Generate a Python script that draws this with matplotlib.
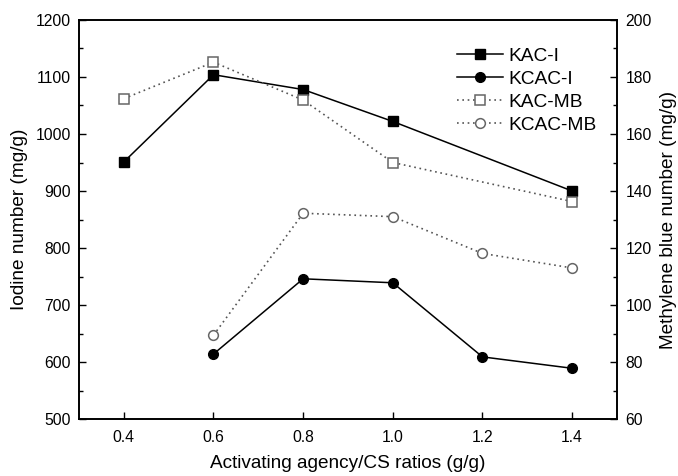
import matplotlib
matplotlib.use("Agg")
import matplotlib.pyplot as plt

plt.rcParams['font.family'] = ['Liberation Sans', 'DejaVu Sans']

# data
x_kac_i = [0.4, 0.6, 0.8, 1.0, 1.4]
kac_i = [951, 1104, 1078, 1022, 900]
x_kcac_i = [0.6, 0.8, 1.0, 1.2, 1.4]
kcac_i = [614, 746, 739, 609, 589]
x_kac_mb = [0.4, 0.6, 0.8, 1.0, 1.4]
kac_mb = [172.4, 185.2, 171.9, 150.0, 136.3]
x_kcac_mb = [0.6, 0.8, 1.0, 1.2, 1.4]
kcac_mb = [89.4, 132.2, 131.0, 118.1, 113.0]
x_ticks = [0.4, 0.6, 0.8, 1.0, 1.2, 1.4]

fig = plt.figure(figsize=(6.78, 4.76), dpi=100)
ax = fig.add_axes([0.1165, 0.1197, 0.7935, 0.8383])
ax2 = ax.twinx()

l1, = ax.plot(x_kac_i, kac_i, color='black', lw=1.1, marker='s', ms=6.5,
              label='KAC-I')
l2, = ax.plot(x_kcac_i, kcac_i, color='black', lw=1.1, marker='o', ms=7,
              label='KCAC-I')
l3, = ax2.plot(x_kac_mb, kac_mb, color='#555555', lw=1.2, ls=(0, (1, 2.2)),
               marker='s', ms=6.5, mfc='white', mec='#666666', mew=1.1,
               label='KAC-MB')
l4, = ax2.plot(x_kcac_mb, kcac_mb, color='#555555', lw=1.2, ls=(0, (1, 2.2)),
               marker='o', ms=7, mfc='white', mec='#666666', mew=1.1,
               label='KCAC-MB')

ax.set_xlim(0.3, 1.5)
ax.set_ylim(500, 1200)
ax2.set_ylim(60, 200)
ax.set_xticks(x_ticks)
ax.set_xticklabels(['%.1f' % v for v in x_ticks])
ax.set_yticks(range(500, 1201, 100))
ax.set_yticks(range(550, 1200, 100), minor=True)
ax2.set_yticks(range(60, 201, 20))
ax2.set_yticks(range(70, 200, 20), minor=True)

for a in (ax, ax2):
    a.tick_params(direction='in', length=5, width=1, labelsize=11.3, pad=6)
    a.tick_params(which='minor', direction='in', length=3, width=1)
    for s in a.spines.values():
        s.set_linewidth(1.2)
ax.tick_params(axis='x', pad=8)

ax.set_xlabel('Activating agency/CS ratios (g/g)', fontsize=13.7, labelpad=7)
ax.set_ylabel('Iodine number (mg/g)', fontsize=13.7, labelpad=5)
ax2.set_ylabel('Methylene blue number (mg/g)', fontsize=13.7, labelpad=6)

ax.legend(handles=[l1, l2, l3, l4], loc='upper right',
          bbox_to_anchor=(0.994, 0.975), frameon=False, fontsize=13.8,
          handlelength=2.4, handletextpad=0.3, labelspacing=0.3)

fig.savefig('out.png', dpi=100)
